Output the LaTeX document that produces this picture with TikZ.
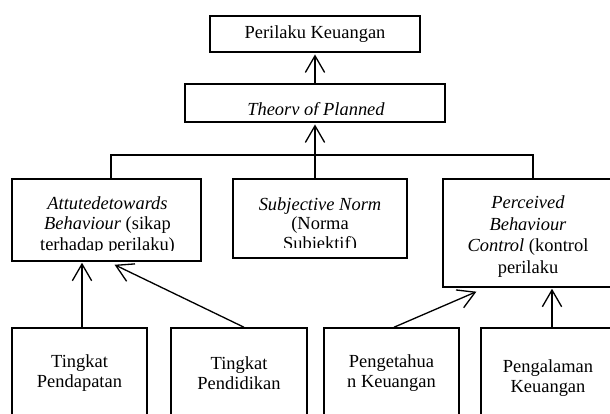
\documentclass[tikz,border=0pt]{standalone}
\usepackage{fontspec}
\setmainfont{Liberation Serif}
\usetikzlibrary{arrows.meta}

\begin{document}
\begin{tikzpicture}[scale=0.2]
	\tikzstyle{every node}+=[inner sep=0pt]
	\tikzstyle{kotak}=[draw=black, line width=0.85pt]
	\tikzstyle{teks}=[align=center, font=\fontsize{10.5}{11.3}\selectfont]
	\tikzstyle{panah}=[line width=0.75pt, -{Straight Barb[length=9.5pt,width=11pt]}, shorten >=1pt]
	\clip (0,0) rectangle (61,-41.4);
	% atas
	\node [kotak, teks, minimum width=4.2cm, minimum height=0.72cm] (perilaku) at (31.5,-3.4) {Perilaku Keuangan};
	\node [kotak, minimum width=5.2cm, minimum height=0.76cm] (tpb) at (31.5,-10.3) {};
	\begin{scope}
		\clip (18.5,-8.4) rectangle (44.5,-11.45);
		\node [teks] (tpbteks) at (31.6,-11.15) {\textit{Theory of Planned}};
	\end{scope}
	% tengah
	\node [kotak, minimum width=3.78cm, minimum height=1.64cm] (sikap) at (10.65,-22.0) {};
	\begin{scope}
		\clip (1.2,-17.9) rectangle (20.1,-25.1);
		\node [teks, font=\fontsize{10.5}{11.6}\selectfont] (sikapteks) at (10.75,-22.55) {\textit{Attutedetowards}\\\textit{Behaviour} (sikap\\terhadap perilaku)};
	\end{scope}
	\node [kotak, minimum width=3.48cm, minimum height=1.58cm] (norma) at (32.0,-21.85) {};
	\begin{scope}
		\clip (23.3,-17.9) rectangle (40.7,-24.75);
		\node [teks] (normateks) at (32.0,-22.55) {\textit{Subjective Norm}\\(Norma\\Subjektif)};
	\end{scope}
	\node [kotak, minimum width=3.4cm, minimum height=2.16cm] (kontrol) at (52.8,-23.3) {};
	\node [teks, font=\fontsize{10.5}{12.3}\selectfont] (kontrolteks) at (52.8,-23.65) {\textit{Perceived}\\\textit{Behaviour}\\\textit{Control} (kontrol\\perilaku};
	% bawah
	\node [kotak, teks, minimum width=2.7cm, minimum height=1.8cm] (pendapatan) at (7.95,-37.3) {Tingkat\\Pendapatan};
	\node [kotak, teks, minimum width=2.72cm, minimum height=1.8cm] (pendidikan) at (23.9,-37.3) {Tingkat\\Pendidikan};
	\node [kotak, teks, minimum width=2.7cm, minimum height=1.8cm] (pengetahuan) at (39.15,-37.3) {Pengetahua\\n Keuangan};
	\node [kotak, minimum width=2.68cm, minimum height=1.8cm] (pengalaman) at (54.8,-37.3) {};
	\node [teks] (pengalamanteks) at (54.8,-37.85) {Pengalaman\\Keuangan};
	% garis
	\coordinate (kiri) at (11.1,-15.5);
	\coordinate (tengah) at (31.5,-15.5);
	\coordinate (kanan) at (53.3,-15.5);
	\draw [line width=0.85pt] (kiri |- sikap.north) -- (kiri) -- (kanan) -- (kanan |- kontrol.north);
	\draw [line width=0.85pt] (tengah) -- (tengah |- norma.north);
	\draw [panah] (tengah) -- (tpb.south);
	\draw [panah] (tpb.north) -- (perilaku.south);
	\coordinate (ujungA) at (11.3,-26.4);
	\coordinate (ujungC) at (47.8,-29.1);
	\draw [panah] (8.2,-32.8) -- (8.2,-26.1);
	\draw [panah] ([xshift=0.5cm]pendidikan.north) -- (ujungA);
	\draw [panah] ([xshift=0.25cm]pengetahuan.north) -- (ujungC);
	\draw [panah] (pengalaman.north -| 55.2,0) -- (55.2,-28.7);
\end{tikzpicture}
\end{document}
